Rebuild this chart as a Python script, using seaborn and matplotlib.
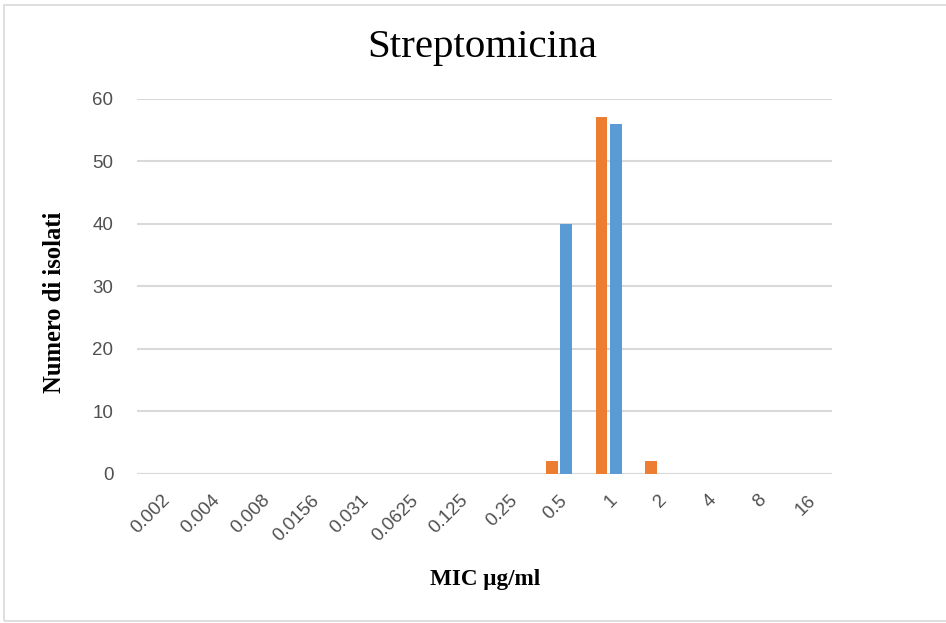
import matplotlib
matplotlib.use("Agg")
import matplotlib.pyplot as plt
import seaborn as sns
import pandas as pd
from matplotlib.patches import Rectangle

categories = ["0.002", "0.004", "0.008", "0.0156", "0.031", "0.0625", "0.125",
              "0.25", "0.5", "1", "2", "4", "8", "16"]
series_a = [0, 0, 0, 0, 0, 0, 0, 0, 2, 57, 2, 0, 0, 0]   # orange
series_b = [0, 0, 0, 0, 0, 0, 0, 0, 40, 56, 0, 0, 0, 0]  # blue
series_names = ["Serie 1", "Serie 2"]
yticks = [0, 10, 20, 30, 40, 50, 60]

df = pd.DataFrame({
    "MIC": categories * 2,
    "count": series_a + series_b,
    "serie": [series_names[0]] * len(categories) + [series_names[1]] * len(categories),
})

sns.set_theme(style="white")
fig = plt.figure(figsize=(9.46, 6.23), dpi=100)
ax = fig.add_axes([137 / 946, 1 - 473.7 / 623, (832 - 137) / 946, (473.7 - 98.7) / 623])

sns.barplot(data=df, x="MIC", y="count", hue="serie", order=categories,
            palette=["#ED7D31", "#5B9BD5"], width=0.584, gap=0.2,
            legend=False, ax=ax, saturation=1, edgecolor="none")

ax.set_ylim(0, 60)
ax.set_xlim(-0.5, len(categories) - 0.5)
ax.set_yticks(yticks)
ax.yaxis.grid(True, color="#D9D9D9", linewidth=1.5)
ax.set_axisbelow(True)
for s in ax.spines.values():
    s.set_visible(False)
ax.axhline(0, color="#D9D9D9", linewidth=1.5, zorder=0.5)

ax.tick_params(axis="both", length=0, labelcolor="#505050")
ax.tick_params(axis="y", pad=17, labelsize=13.5)
for lab in ax.get_yticklabels():
    lab.set_family("Liberation Sans")
ax.set_xticks(range(len(categories)))
ax.set_xticklabels(categories, rotation=45, ha="right", rotation_mode="anchor",
                   family="Liberation Sans", fontsize=13.5, color="#505050")
ax.tick_params(axis="x", pad=13)

ax.set_xlabel("MIC µg/ml", family="Liberation Serif", fontweight="bold",
              fontsize=16.7, color="#000000")
ax.xaxis.set_label_coords((485 - 137) / (832 - 137), -(569 - 473.7) / 375)
ax.set_ylabel("Numero di isolati", family="Liberation Serif", fontweight="bold",
              fontsize=17.7, color="#000000")
ax.yaxis.set_label_coords(-(137 - 66) / 695, (473.7 - 302) / 375)
fig.text(482 / 946, 1 - 47 / 623, "Streptomicina", family="Liberation Serif",
         fontsize=29.5, ha="center", va="center", color="#000000")

fig.patches.append(Rectangle((4 / 946, 2 / 623), 1.0, 1 - 6.5 / 623, transform=fig.transFigure,
                             fill=False, edgecolor="#D9D9D9", linewidth=1.2))

fig.savefig("out.png", dpi=100)
